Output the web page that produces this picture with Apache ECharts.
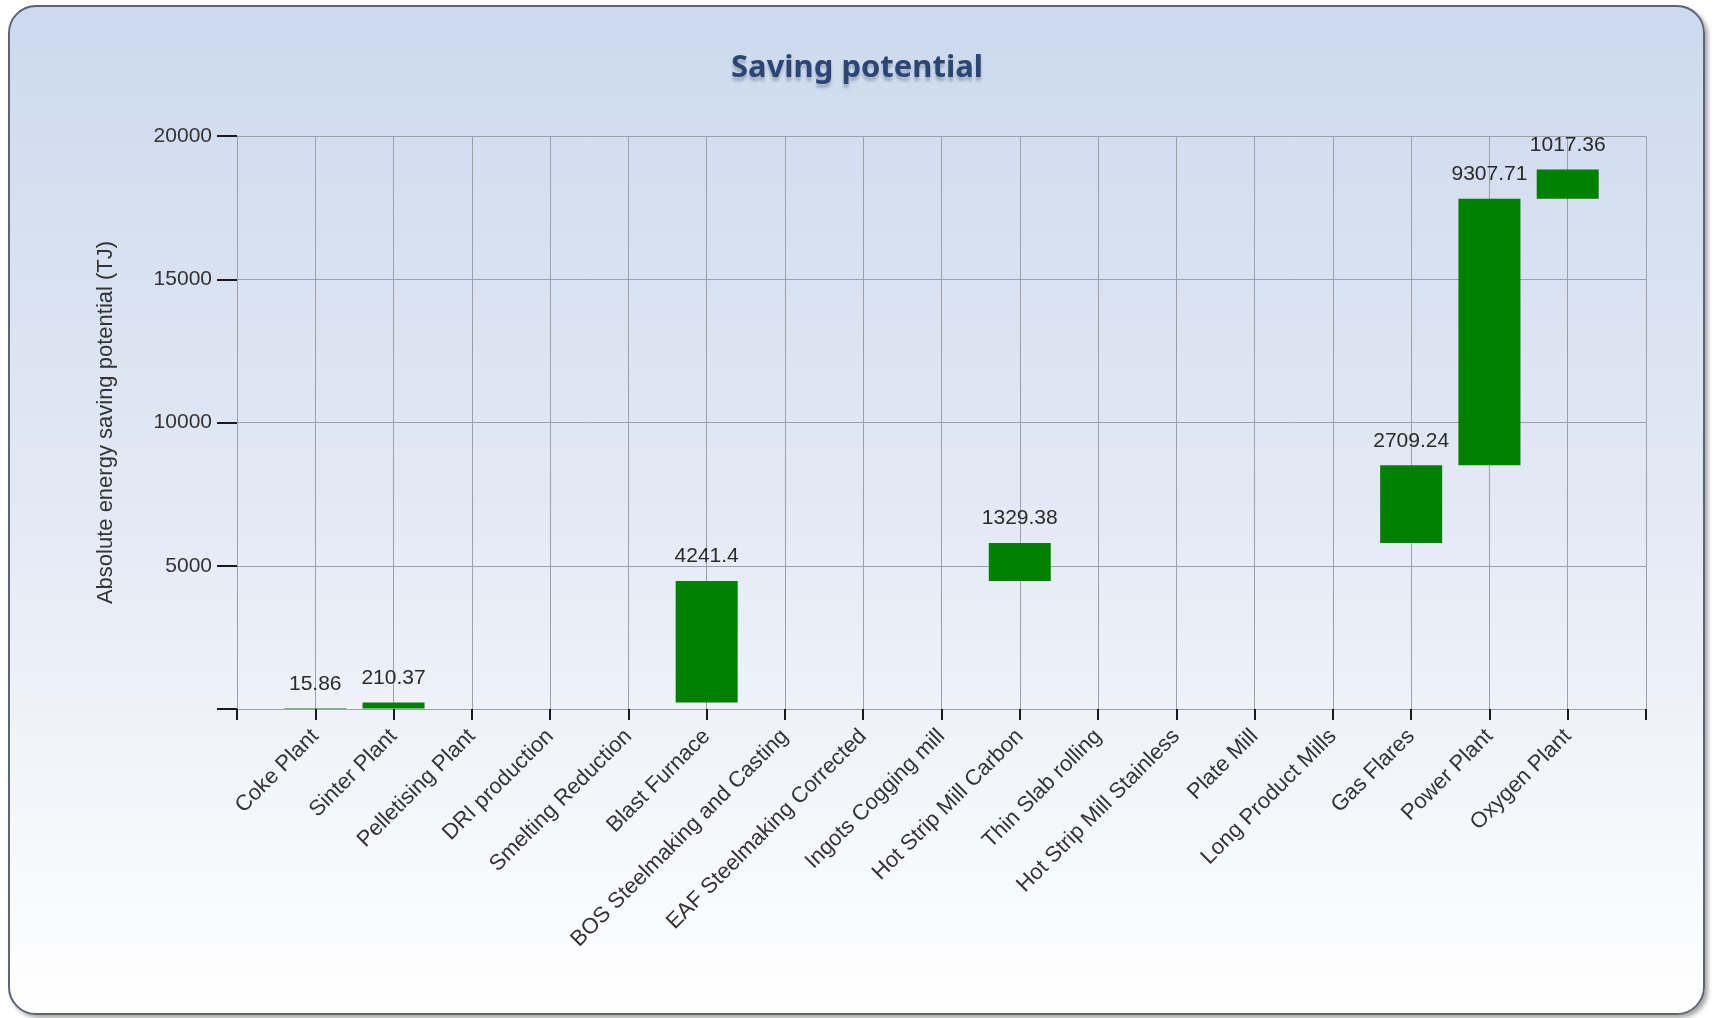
<!DOCTYPE html>
<html>
<head>
<meta charset="utf-8">
<title>Saving potential</title>
<script src="https://cdn.jsdelivr.net/npm/echarts@6/dist/echarts.min.js"></script>
<style>
  html, body {
    margin: 0;
    padding: 0;
    background: #ffffff;
  }
  .pannel {
    position: absolute;
    left: 8px;
    top: 5px;
    width: 1693px;
    height: 1006px;
    border: 2px solid #5d6474;
    border-radius: 28px;
    background: linear-gradient(#ccd9ee, #e6ebf5 55%, #ffffff);
    box-shadow: 3px 3px 4px rgba(0, 0, 0, 0.35);
  }
  .bar {
    position: absolute;
    left: 0;
    top: 0;
    width: 1714px;
    height: 1018px;
  }
</style>
</head>
<body>
<div class="pannel"></div>
<div class="bar"></div>
<script>
const categories = [
  'Coke Plant', 'Sinter Plant', 'Pelletising Plant', 'DRI production',
  'Smelting Reduction', 'Blast Furnace', 'BOS Steelmaking and Casting',
  'EAF Steelmaking Corrected', 'Ingots Cogging mill', 'Hot Strip Mill Carbon',
  'Thin Slab rolling', 'Hot Strip Mill Stainless', 'Plate Mill',
  'Long Product Mills', 'Gas Flares', 'Power Plant', 'Oxygen Plant'
]
const savings = [
  15.86, 210.37, 0, 0, 0, 4241.4, 0, 0, 0, 1329.38,
  0, 0, 0, 0, 2709.24, 9307.71, 1017.36
]
const yTicks = [0, 5000, 10000, 15000, 20000]

// waterfall: invisible base = running total before each step
const base = []
let total = 0
savings.forEach(v => {
  base.push(v > 0 ? total : '-')
  total += v
})
const steps = savings.map(v => (v > 0 ? v : '-'))

// one empty slot on each side so the ticks sit like the original
const xData = [''].concat(categories, [''])
const baseData = ['-'].concat(base, ['-'])
const stepData = ['-'].concat(steps, ['-'])

const gridColor = '#9ba1ab'
const labelFont = 'Liberation Sans, Arial, sans-serif'

const option = {
  animation: false,
  title: {
    text: 'Saving potential',
    left: 'center',
    top: 48,
    textStyle: {
      fontFamily: 'Noto Sans, sans-serif',
      fontWeight: 'bold',
      fontSize: 31,
      color: '#2b4672',
      textShadowColor: 'rgba(40, 60, 90, 0.3)',
      textShadowBlur: 3,
      textShadowOffsetY: 4
    }
  },
  grid: {
    left: 237,
    right: 68,
    top: 136,
    bottom: 309,
    containLabel: false
  },
  xAxis: {
    type: 'category',
    data: xData,
    boundaryGap: false,
    axisLine: {
      lineStyle: { color: gridColor, width: 1 }
    },
    axisTick: {
      show: true,
      interval: 0,
      length: 11,
      lineStyle: { color: '#1a1a1a', width: 2 }
    },
    axisLabel: {
      interval: 0,
      rotate: 45,
      margin: 24,
      color: '#333333',
      fontFamily: labelFont,
      fontSize: 22
    },
    splitLine: {
      show: true,
      interval: 0,
      lineStyle: { color: gridColor, width: 1 }
    }
  },
  yAxis: {
    type: 'value',
    min: yTicks[0],
    max: yTicks[yTicks.length - 1],
    interval: yTicks[1] - yTicks[0],
    name: 'Absolute energy saving potential (TJ)',
    nameLocation: 'middle',
    nameRotate: 90,
    nameGap: 120,
    nameTextStyle: {
      color: '#333333',
      fontFamily: labelFont,
      fontSize: 22
    },
    axisLine: {
      show: true,
      lineStyle: { color: gridColor, width: 1 }
    },
    axisTick: {
      show: true,
      length: 20,
      lineStyle: { color: '#1a1a1a', width: 2 }
    },
    axisLabel: {
      margin: 25,
      color: '#333333',
      fontFamily: labelFont,
      fontSize: 21,
      formatter: v => (v === 0 ? '' : String(v))
    },
    splitLine: {
      lineStyle: { color: gridColor, width: 1 }
    }
  },
  series: [
    {
      name: 'base',
      type: 'bar',
      stack: 'total',
      barWidth: 62,
      silent: true,
      itemStyle: { color: 'transparent' },
      data: baseData
    },
    {
      name: 'Saving potential',
      type: 'bar',
      stack: 'total',
      barWidth: 62,
      itemStyle: {
        color: '#008000'
      },
      label: {
        show: true,
        position: 'top',
        distance: 14,
        color: '#2a2a2a',
        fontFamily: labelFont,
        fontSize: 21,
        formatter: p => String(p.value)
      },
      data: stepData
    }
  ]
}

const myChart = echarts.init(document.querySelector('.bar'))
myChart.setOption(option)
</script>
</body>
</html>
